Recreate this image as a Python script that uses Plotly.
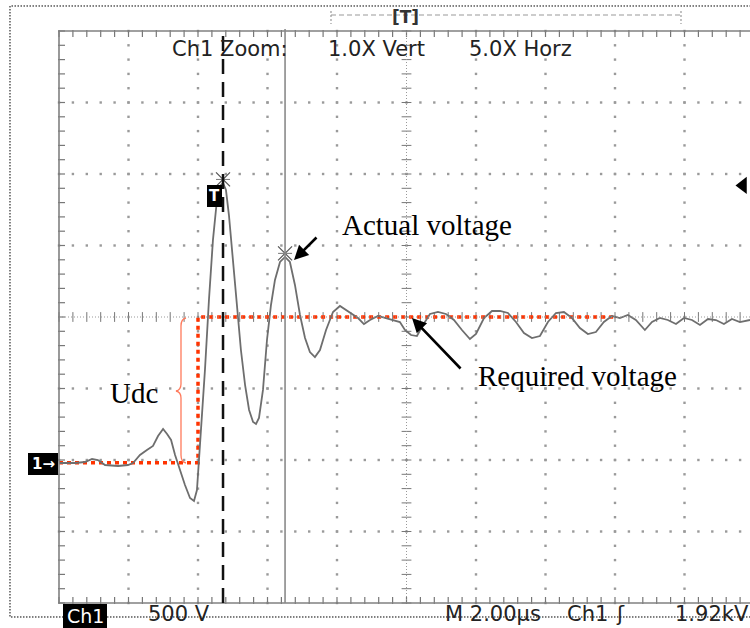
import plotly.graph_objects as go

# ---------------- data (time in microseconds, voltage in volts) ----------------
time_us = [0.000, 0.092, 0.150, 0.190, 0.224, 0.265, 0.340, 0.397, 0.426, 0.466,
           0.506, 0.541, 0.570, 0.599, 0.622, 0.645, 0.668, 0.696, 0.725, 0.754,
           0.777, 0.794, 0.806, 0.823, 0.840, 0.863, 0.886, 0.909, 0.927, 0.944,
           0.961, 0.978, 1.001, 1.024, 1.047, 1.071, 1.094, 1.117, 1.134, 1.151,
           1.174, 1.197, 1.220, 1.243, 1.272, 1.301, 1.329, 1.358, 1.387, 1.416,
           1.444, 1.473, 1.502, 1.537, 1.577, 1.617, 1.652, 1.686, 1.721, 1.755,
           1.790, 1.836, 1.882, 1.928, 1.962, 1.991, 2.026, 2.060, 2.095, 2.135,
           2.181, 2.227, 2.273, 2.319, 2.365, 2.400, 2.446, 2.492, 2.538, 2.584,
           2.630, 2.676, 2.722, 2.768, 2.814, 2.860, 2.906, 2.952, 2.998, 3.044,
           3.090, 3.136, 3.182, 3.228, 3.274, 3.320, 3.372, 3.413, 3.458, 3.504,
           3.551, 3.597, 3.643, 3.689, 3.735, 3.781, 3.827, 3.873, 3.919, 3.977]
voltage_v = [-21, -21, -14, 7, 0, -35, -42, -35, -21, 35,
             70, 98, 168, 217, 182, 140, 35, -70, -175, -266,
             -287, -210, 0, 280, 629, 1119, 1538, 1818, 1916, 1937,
             1888, 1713, 1399, 1049, 769, 524, 350, 266, 252, 294,
             490, 839, 1084, 1259, 1385, 1420, 1385, 1224, 1014, 853,
             755, 720, 769, 909, 1035, 1077, 1049, 1021, 993, 951,
             979, 1007, 993, 979, 965, 909, 874, 867, 944, 1021,
             1035, 1021, 979, 909, 846, 881, 993, 1042, 1042, 1028,
             965, 888, 853, 867, 965, 1028, 1035, 993, 923, 881,
             895, 965, 1007, 993, 1014, 979, 909, 965, 993, 979,
             951, 993, 979, 944, 986, 979, 951, 986, 965, 979]

required_t = [0.0, 0.800, 0.800, 3.194]
required_v = [-20, -20, 1000, 1000]

cursor_t = [0.944, 1.301]
cursor_v = [1937, 1420]
trigger_level_v = 1920

header_labels = ["Ch1 Zoom:", "1.0X Vert", "5.0X Horz"]
footer_labels = ["500 V", "M 2.00\u00b5s", "Ch1", "1.92kV"]

# ---------------- scales (screen geometry) ----------------
W, H = 750, 628
X0, PXDX, TDIV = 59.0, 69.5, 0.4      # pixel of t=0, pixels per div, us per div
YG, PXDY, VDIV = 460.0, 71.5, 500.0   # pixel of 0 V, pixels per div, V per div


def px_t(px):
    return (px - X0) / PXDX * TDIV


def py_v(py):
    return (YG - py) / PXDY * VDIV


def P(px, py):
    return px / W, 1 - py / H


V_BOT, V_TOP = -2 * VDIV, 6 * VDIV
T_LEFT, T_RIGHT = 0.0, 10 * TDIV

fig = go.Figure()

# grid dots
gx, gy = [], []
for k in range(1, 10):
    if k == 5:
        continue
    for m in range(0, 41):
        gx.append(k * TDIV); gy.append(V_BOT + m * VDIV / 5)
for j in range(1, 8):
    if j == 4:
        continue
    for n in range(0, 51):
        gx.append(n * TDIV / 5); gy.append(V_BOT + j * VDIV)
fig.add_trace(go.Scatter(x=gx, y=gy, mode="markers", hoverinfo="skip",
                         marker=dict(symbol="square", size=2.4, color="#9a9a9a")))

# center axes ticks
cx_t = 5 * TDIV
cy_v = V_BOT + 4 * VDIV
fig.add_trace(go.Scatter(x=[cx_t] * 41, y=[V_BOT + m * VDIV / 5 for m in range(41)],
                         mode="markers", hoverinfo="skip",
                         marker=dict(symbol="line-ew", size=7, line=dict(width=1, color="#777"))))
fig.add_trace(go.Scatter(x=[n * TDIV / 5 for n in range(51)], y=[cy_v] * 51,
                         mode="markers", hoverinfo="skip",
                         marker=dict(symbol="line-ns", size=7, line=dict(width=1, color="#777"))))
# border ticks
fig.add_trace(go.Scatter(x=[px_t(X0 + 2.5)] * 41, y=[V_BOT + m * VDIV / 5 for m in range(41)],
                         mode="markers", hoverinfo="skip",
                         marker=dict(symbol="line-ew", size=5, line=dict(width=1.2, color="#777"))))
fig.add_trace(go.Scatter(x=[n * TDIV / 5 for n in range(51)], y=[py_v(33.5)] * 51,
                         mode="markers", hoverinfo="skip",
                         marker=dict(symbol="line-ns", size=5, line=dict(width=1.2, color="#777"))))
fig.add_trace(go.Scatter(x=[n * TDIV / 5 for n in range(51)], y=[py_v(600.5)] * 51,
                         mode="markers", hoverinfo="skip",
                         marker=dict(symbol="line-ns", size=5, line=dict(width=1.2, color="#777"))))

shapes = []
# center dotted lines
shapes.append(dict(type="line", xref="x", yref="y", x0=cx_t, x1=cx_t, y0=V_BOT, y1=V_TOP,
                   line=dict(color="#999", width=1, dash="1px,2px")))
shapes.append(dict(type="line", xref="x", yref="y", x0=T_LEFT, x1=T_RIGHT, y0=cy_v, y1=cy_v,
                   line=dict(color="#999", width=1, dash="1px,2px")))
# border
for (a, b, c, d) in [(T_LEFT, V_BOT, T_LEFT, V_TOP), (T_LEFT, V_TOP, T_RIGHT, V_TOP),
                     (T_LEFT, V_BOT, T_RIGHT, V_BOT)]:
    shapes.append(dict(type="line", xref="x", yref="y", x0=a, y0=b, x1=c, y1=d,
                       line=dict(color="#808080", width=1.6)))
# cursors
shapes.append(dict(type="line", xref="x", yref="y", x0=cursor_t[0], x1=cursor_t[0],
                   y0=V_BOT, y1=py_v(29), line=dict(color="#111", width=2.5, dash="15px,8px")))
shapes.append(dict(type="line", xref="x", yref="y", x0=cursor_t[1], x1=cursor_t[1],
                   y0=V_BOT, y1=py_v(29), line=dict(color="#8a8a8a", width=1.6)))


def path_px(pts, cmds):
    s = ""
    i = 0
    for c in cmds:
        if c in "ML":
            x, y = P(*pts[i]); i += 1
            s += f"{c} {x:.5f},{y:.5f} "
        elif c == "Q":
            x1, y1 = P(*pts[i]); x2, y2 = P(*pts[i + 1]); i += 2
            s += f"Q {x1:.5f},{y1:.5f} {x2:.5f},{y2:.5f} "
    return s


# outer dotted frame
shapes.append(dict(type="path", xref="paper", yref="paper",
                   path=path_px([(751, 6), (10, 6), (10, 617), (751, 617)], "MLLL"),
                   line=dict(color="#000", width=1, dash="1.5px,1.5px")))
# brace
brace_pts = [(186, 318), (181, 319), (181, 326), (181, 384), (181, 390), (176, 391),
             (181, 392), (181, 398), (181, 455), (181, 462), (186, 463)]
shapes.append(dict(type="path", xref="paper", yref="paper",
                   path=path_px(brace_pts, "MQLQQLQ"),
                   line=dict(color="#ff7a5c", width=1.3)))
# top trigger-position bar
x0p, y0p = P(331, 15); x1p, _ = P(681, 15)
shapes.append(dict(type="line", xref="paper", yref="paper", x0=x0p, x1=x1p, y0=y0p, y1=y0p,
                   line=dict(color="#999", width=1.2, dash="5px,3px")))
for xe in (331, 681):
    a, b = P(xe, 11); _, c = P(xe, 24)
    shapes.append(dict(type="line", xref="paper", yref="paper", x0=a, x1=a, y0=b, y1=c,
                       line=dict(color="#999", width=1.2, dash="2px,2px")))
# black label boxes
for (xa, ya, xb, yb) in [(28, 453, 58, 475), (63, 604, 107, 629), (207, 185, 222, 207)]:
    a, b = P(xa, ya); c, d = P(xb, yb)
    shapes.append(dict(type="rect", xref="paper", yref="paper", x0=a, x1=c, y0=d, y1=b,
                       fillcolor="#000", line=dict(width=0)))

# required voltage (red dotted)
fig.add_trace(go.Scatter(x=required_t, y=required_v, mode="lines", hoverinfo="skip",
                         line=dict(color="#ff3300", width=3.5, dash="4px,4px")))
# waveform
fig.add_trace(go.Scatter(x=time_us, y=voltage_v, mode="lines", hoverinfo="skip",
                         line=dict(color="#6e6e6e", width=1.8)))
# cursor peak markers
fig.add_trace(go.Scatter(x=cursor_t, y=[v + 25 for v in cursor_v], mode="markers", hoverinfo="skip",
                         marker=dict(symbol="x-thin", size=14, line=dict(width=1.2, color="#555"))))
fig.add_trace(go.Scatter(x=cursor_t, y=[v + 25 for v in cursor_v], mode="markers", hoverinfo="skip",
                         marker=dict(symbol="line-ew", size=10, line=dict(width=1, color="#777"))))
# trigger level marker
fig.add_trace(go.Scatter(x=[px_t(743)], y=[trigger_level_v], mode="markers", hoverinfo="skip",
                         marker=dict(symbol="triangle-left", size=15, color="#000")))

ann = []
scope_font = dict(family="DejaVu Sans", size=21, color="#222")
for txt, xp in zip(header_labels, [170, 326, 467]):
    a, b = P(xp, 49)
    ann.append(dict(text=txt, x=a, y=b, xref="paper", yref="paper", xanchor="left",
                    yanchor="middle", showarrow=False, font=scope_font))
for txt, xp in zip(footer_labels, [146, 443, 565, 673]):
    a, b = P(xp, 614)
    ann.append(dict(text=txt, x=a, y=b, xref="paper", yref="paper", xanchor="left",
                    yanchor="middle", showarrow=False, font=scope_font))
# trigger slope symbol
a, b = P(614, 614)
ann.append(dict(text="\u0283", x=a, y=b, xref="paper", yref="paper", xanchor="left",
                yanchor="middle", showarrow=False, font=scope_font))
# Ch1 inverted
a, b = P(85, 616)
ann.append(dict(text="Ch1", x=a, y=b, xref="paper", yref="paper", xanchor="center",
                yanchor="middle", showarrow=False,
                font=dict(family="DejaVu Sans", size=19, color="#fff")))
a, b = P(43, 464)
ann.append(dict(text="1\u2192", x=a, y=b, xref="paper", yref="paper", xanchor="center",
                yanchor="middle", showarrow=False,
                font=dict(family="DejaVu Sans", size=15, color="#fff", weight="bold")))
a, b = P(214.5, 196)
ann.append(dict(text="T", x=a, y=b, xref="paper", yref="paper", xanchor="center",
                yanchor="middle", showarrow=False,
                font=dict(family="DejaVu Sans", size=15, color="#fff", weight="bold")))
a, b = P(405, 17)
ann.append(dict(text="[T]", x=a, y=b, xref="paper", yref="paper", xanchor="center",
                yanchor="middle", showarrow=False,
                font=dict(family="DejaVu Sans", size=17, color="#333", weight="bold")))

serif = dict(family="Liberation Serif", size=29, color="#000")
for txt, xp, yp in [("Actual voltage", 340, 225), ("Required voltage", 476, 376), ("Udc", 108, 393)]:
    a, b = P(xp, yp)
    ann.append(dict(text=txt, x=a, y=b, xref="paper", yref="paper", xanchor="left",
                    yanchor="middle", showarrow=False, font=serif))

# arrows
ann.append(dict(text="", x=px_t(294), y=py_v(260), xref="x", yref="y", ax=24, ay=-24,
                showarrow=True, arrowhead=2, arrowsize=1.1, arrowwidth=2.6, arrowcolor="#000"))
ann.append(dict(text="", x=px_t(412), y=py_v(318), xref="x", yref="y", ax=50, ay=52,
                showarrow=True, arrowhead=2, arrowsize=1.1, arrowwidth=2.6, arrowcolor="#000"))

fig.update_layout(
    width=W, height=H, margin=dict(l=0, r=0, t=0, b=0),
    paper_bgcolor="#fff", plot_bgcolor="#fff", showlegend=False,
    xaxis=dict(range=[px_t(0), px_t(W)], domain=[0, 1], visible=False, fixedrange=True),
    yaxis=dict(range=[py_v(H), py_v(0)], domain=[0, 1], visible=False, fixedrange=True),
    shapes=shapes, annotations=ann,
)
fig.write_html("out.html", config={"displayModeBar": False},
               post_script="document.body.style.margin='0';document.body.style.overflow='hidden';")
